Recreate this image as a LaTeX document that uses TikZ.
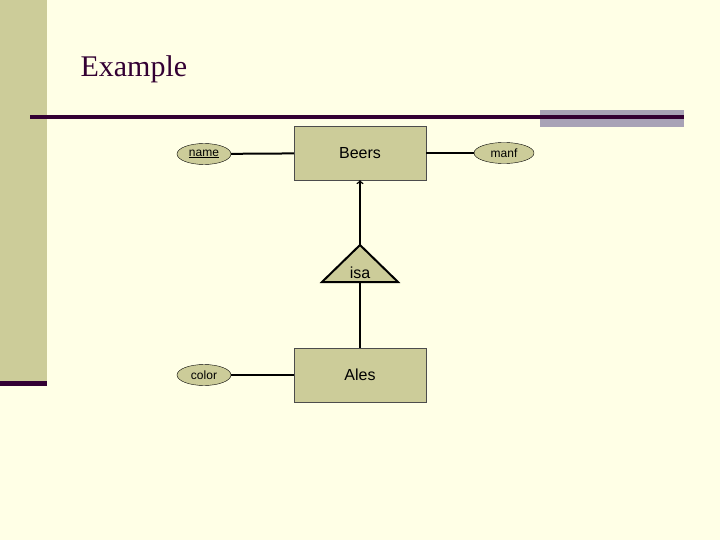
\documentclass[tikz,border=0pt]{standalone}
\usepackage{fontspec}
\setmainfont{Liberation Serif}
\setsansfont{Liberation Sans}
\usetikzlibrary{shapes.geometric}
\definecolor{paper}{RGB}{255, 255, 230}
\definecolor{khaki}{RGB}{204, 204, 153}
\definecolor{plum}{RGB}{51, 0, 51}
\definecolor{slate}{RGB}{168, 162, 182}
\tikzset{
  entity/.style={draw=black!70, fill=khaki, minimum width=132pt, minimum height=54pt, font=\sffamily\fontsize{16}{16}\selectfont},
  attrib/.style={ellipse, draw=black, fill=khaki, inner sep=0pt, minimum height=21pt, font=\sffamily\fontsize{12}{12}\selectfont},
  link/.style={line width=2pt}
}
\begin{document}
\begin{tikzpicture}[x=1pt, y=-1pt]
            \useasboundingbox (0,0) rectangle (720,540);
            \fill[paper]  (0,0) rectangle (720,540);
            \fill[khaki]  (0,0) rectangle (47,385);
            \fill[plum]   (0,381) rectangle (47,386);
            \fill[slate]  (540,110) rectangle (684,127);
            \fill[plum]   (30,115.5) rectangle (684,119);
            \node[anchor=west, text=plum, font=\fontsize{30}{30}\selectfont] (title) at (77,69) {Example};
            % entities
            \node[entity] (beers) at (360,153) {Beers};
            \node[entity] (ales)  at (360,375) {Ales};
            % attributes
            \node[attrib, minimum width=54pt] (name)  at (204,154) {\underline{name}};
            \node[attrib, minimum width=60pt] (manf)  at (504,153) {manf};
            \node[attrib, minimum width=54pt] (color) at (204,375) {color};
            % isa triangle
            \coordinate (apex) at (360,245);
            \coordinate (base) at (360,282);
            \filldraw[fill=khaki, draw=black, line width=2pt] (apex) -- (398,282) -- (322,282) -- cycle;
            \draw[link] (base) -- (ales.north);
            \node[font=\sffamily\fontsize{16}{16}\selectfont] (isa) at (360,273) {isa};
            \draw[line width=1.5pt, ->] (apex) -- (beers.south);
            \draw[link] (name) -- (beers);
            \draw[link] (beers) -- (manf);
            \draw[link] (color) -- (ales);
            \end{tikzpicture}
\end{document}
